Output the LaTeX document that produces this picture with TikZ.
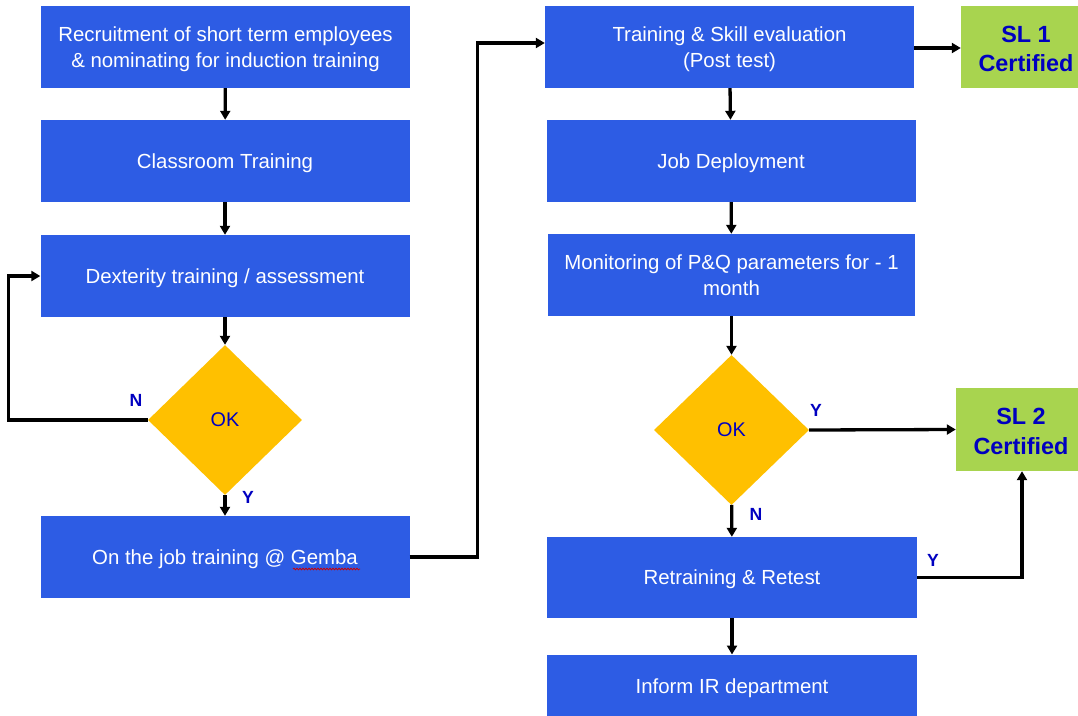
\documentclass[tikz,border=0pt]{standalone}
\usepackage{fontspec}
\setmainfont{Liberation Sans}
\usetikzlibrary{shapes.geometric,arrows.meta,calc,decorations.pathmorphing}
\definecolor{boxblue}{HTML}{2D5CE4}
\definecolor{okyellow}{HTML}{FFC000}
\definecolor{certgreen}{HTML}{A8D44F}
\definecolor{labblue}{HTML}{0000C0}
\begin{document}
\begin{tikzpicture}[x=1pt,y=-1pt,
  stepbox/.style={rectangle,fill=boxblue,text=white,inner sep=0pt,
    minimum width=369pt,minimum height=82pt,align=center,
    text depth=0pt,font=\fontsize{20.4}{25.5}\selectfont},
  decision/.style={diamond,fill=okyellow,text=labblue,inner sep=0pt,
    minimum width=154pt,minimum height=150pt,
    font=\fontsize{19.8}{24}\selectfont},
  certbox/.style={rectangle,fill=certgreen,text=labblue,inner sep=0pt,
    align=center,font=\fontsize{23.4}{29.5}\selectfont\bfseries},
  flow/.style={draw=black,line width=3.3pt,
    -{Triangle[length=9pt,width=10pt]}},
  yn/.style={text=labblue,font=\fontsize{17.6}{20}\selectfont\bfseries}]
\useasboundingbox (0,0) rectangle (1078,715);

% left column
\node[stepbox] (recruit) at (225.5,47) {Recruitment of short term employees\\\& nominating for induction training};
\node[stepbox] (class) at (225,161) {Classroom Training};
\node[stepbox] (dext) at (225,276) {Dexterity training / assessment};
\node[decision] (ok1) at (225,420) {OK};
\node[stepbox] (ojt) at (225,557) {On the job training @ Gemba};

% right column
\node[stepbox] (eval) at (729.5,47) {Training \& Skill evaluation\\(Post test)};
\node[stepbox] (deploy) at (731,161) {Job Deployment};
\node[stepbox,text depth=-2pt,minimum width=367pt] (monitor) at (731.5,275) {Monitoring of P\&Q parameters for - 1\\month};
\node[decision,minimum width=155pt] (ok2) at (731.5,430) {OK};
\node[stepbox,minimum width=370pt,minimum height=81pt] (retrain) at (732,577.5) {Retraining \& Retest};
\node[stepbox,minimum width=370pt,minimum height=61pt,anchor=north] (inform) at (732,654.5) {};
\node at (732,688) [text=white,font=\fontsize{20.4}{25.5}\selectfont] (informtext) {Inform IR department};

% certification boxes (they run off the right edge)
\node[certbox,minimum width=117pt,minimum height=82pt] (sl1box) at (1019.5,47) {};
\node[certbox] (sl1) at (1026,49) {SL 1\\Certified};
\node[certbox,minimum width=122pt,minimum height=83pt] (sl2box) at (1017,429.5) {};
\node[certbox] (sl2) at (1021,431.5) {SL 2\\Certified};

% spell-check mark under "Gemba"
\draw[red!80!black,line width=0.8pt,decorate,
  decoration={snake,amplitude=0.8pt,segment length=3pt}]
  ($(ojt.center)+(68,12)$) -- ($(ojt.center)+(135,12)$);

% connectors, left column
\draw[flow] (recruit) -- (class);
\draw[flow] (class) -- (dext);
\draw[flow] (dext) -- (ok1);
\draw[flow] (ok1) -- (ojt);
\draw[flow] (ok1.west) -- ++(-139,0) |- (dext.west);
\draw[flow] (ojt.east) -- ++(68,0) |- ($(eval.west)+(0,-4)$);

% connectors, right column
\draw[flow] ($(eval.east)+(0,1)$) -- ($(sl1box.west)+(0,1)$);
\draw[flow] (eval) -- (deploy);
\draw[flow] (deploy) -- (monitor);
\draw[flow] (monitor) -- (ok2);
\draw[flow] (ok2.east) -- (sl2box.west);
\draw[flow] (ok2) -- (retrain);
\draw[flow] (retrain) -- (inform);
\draw[flow] (retrain.east) -| ($(sl2box.south)+(5,0)$);

% branch labels
\node[yn] (n1) at (136,400) {N};
\node[yn] (y1) at (248,497) {Y};
\node[yn] (y2) at (816,410) {Y};
\node[yn] (n2) at (756,514) {N};
\node[yn] (y3) at (933,560) {Y};
\end{tikzpicture}
\end{document}
